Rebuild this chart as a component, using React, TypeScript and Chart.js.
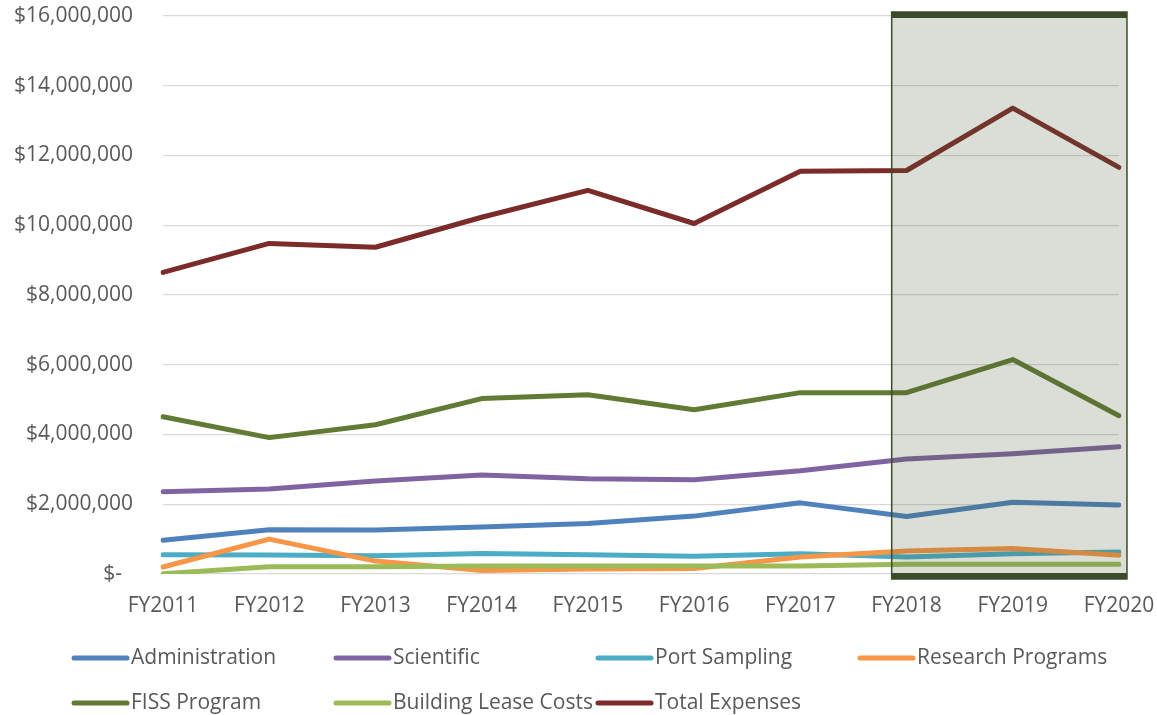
import React, { useEffect, useRef } from "react";
import { Chart, registerables } from "chart.js";

Chart.register(...registerables);

const categories = ["FY2011", "FY2012", "FY2013", "FY2014", "FY2015", "FY2016", "FY2017", "FY2018", "FY2019", "FY2020"];

const administration = [970000, 1270000, 1265000, 1350000, 1450000, 1660000, 2040000, 1650000, 2060000, 1980000];
const scientific = [2360000, 2440000, 2670000, 2840000, 2730000, 2700000, 2960000, 3300000, 3450000, 3650000];
const portSampling = [555000, 545000, 520000, 590000, 555000, 510000, 580000, 490000, 580000, 630000];
const researchPrograms = [200000, 1000000, 370000, 100000, 140000, 160000, 490000, 660000, 730000, 540000];
const fissProgram = [4510000, 3910000, 4280000, 5030000, 5140000, 4710000, 5200000, 5200000, 6150000, 4540000];
const buildingLease = [10000, 210000, 210000, 230000, 230000, 230000, 230000, 280000, 280000, 280000];
const totalExpenses = [8650000, 9480000, 9370000, 10230000, 11000000, 10050000, 11550000, 11570000, 13360000, 11660000];

const seriesNames = ["Administration", "Scientific", "Port Sampling", "Research Programs", "FISS Program", "Building Lease Costs", "Total Expenses"];
const seriesValues = [administration, scientific, portSampling, researchPrograms, fissProgram, buildingLease, totalExpenses];
const seriesColors = ["#4F81BD", "#8064A2", "#4BACC6", "#F79646", "#617A34", "#9BBB59", "#7B2C2A"];

// highlighted period (category index range)
const highlightFrom = 7;
const highlightTo = 9;

const FONT = "'Open Sans', sans-serif";
const TEXT = "#595959";

const highlightPlugin = {
  id: "highlightBox",
  afterDatasetsDraw(chart: any) {
    const { ctx, chartArea, scales } = chart;
    const x = scales.x;
    const step = x.getPixelForValue(1) - x.getPixelForValue(0);
    const left = x.getPixelForValue(highlightFrom) - step * 0.14;
    const right = x.getPixelForValue(highlightTo) + step * 0.075;
    const top = chartArea.top - 4;
    const bottom = chartArea.bottom + 5;
    ctx.save();
    ctx.fillStyle = "rgba(74,90,48,0.2)";
    ctx.fillRect(left, top, right - left, bottom - top);
    ctx.strokeStyle = "#3B4A2B";
    ctx.lineWidth = 1.5;
    ctx.strokeRect(left, top, right - left, bottom - top);
    ctx.fillStyle = "#3B4A2B";
    ctx.fillRect(left, top, right - left, 6);
    ctx.fillRect(left, bottom - 6, right - left, 6);
    ctx.restore();
  },
};

const legendPlugin = {
  id: "gridLegend",
  afterDraw(chart: any) {
    const { ctx } = chart;
    const colW = 262;
    const x0 = 72;
    const rows = [658, 703];
    ctx.save();
    ctx.font = `21px ${FONT}`;
    ctx.textBaseline = "middle";
    ctx.textAlign = "left";
    chart.data.datasets.forEach((ds: any, i: number) => {
      const col = i % 4;
      const row = Math.floor(i / 4);
      const x = x0 + col * colW;
      const y = rows[row];
      ctx.strokeStyle = ds.borderColor;
      ctx.lineWidth = 5;
      ctx.lineCap = "round";
      ctx.beginPath();
      ctx.moveTo(x + 2, y);
      ctx.lineTo(x + 55, y);
      ctx.stroke();
      ctx.fillStyle = TEXT;
      ctx.fillText(ds.label, x + 59, y);
    });
    ctx.restore();
  },
};

export default function App() {
  const ref = useRef<HTMLCanvasElement>(null);
  useEffect(() => {
    if (!ref.current) return;
    const chart = new Chart(ref.current, {
      type: "line",
      data: {
        labels: categories,
        datasets: seriesNames.map((name, i) => ({
          label: name,
          data: seriesValues[i],
          borderColor: seriesColors[i],
          backgroundColor: seriesColors[i],
          borderWidth: 5,
          pointRadius: 0,
          pointHoverRadius: 0,
          tension: 0,
          fill: false,
          borderCapStyle: "round" as const,
          borderJoinStyle: "round" as const,
          order: seriesNames.length - i,
        })),
      },
      options: {
        animation: false,
        responsive: true,
        maintainAspectRatio: false,
        layout: { padding: { left: 0, right: 38, top: 16, bottom: 91 } },
        plugins: {
          legend: { display: false },
          tooltip: { enabled: false },
        },
        scales: {
          x: {
            offset: false,
            grid: { display: false, drawTicks: false },
            border: { display: false },
            ticks: {
              color: TEXT,
              font: { family: FONT, size: 21 },
              padding: 19,
              autoSkip: false,
              maxRotation: 0,
            },
            afterFit(scale: any) {
              scale.height = 50;
              scale.paddingLeft = 0;
              scale.paddingRight = 0;
            },
          },
          y: {
            min: 0,
            max: 16000000,
            grid: { color: "#D9D9D9", lineWidth: 1.3, drawTicks: false },
            border: { display: false },
            ticks: {
              stepSize: 2000000,
              color: TEXT,
              font: { family: FONT, size: 21 },
              padding: 30,
              callback: (v: any) => (Number(v) === 0 ? "$-  " : "$" + Number(v).toLocaleString("en-US")),
            },
            afterFit(scale: any) {
              scale.width = 163;
              scale.paddingTop = 0;
              scale.paddingBottom = 0;
            },
          },
        },
      },
      plugins: [highlightPlugin, legendPlugin],
    });
    return () => chart.destroy();
  }, []);
  return (
    <div style={{ position: "absolute", left: 0, top: 0, width: 1157, height: 715, background: "#fff" }}>
      <canvas ref={ref} />
    </div>
  );
}
